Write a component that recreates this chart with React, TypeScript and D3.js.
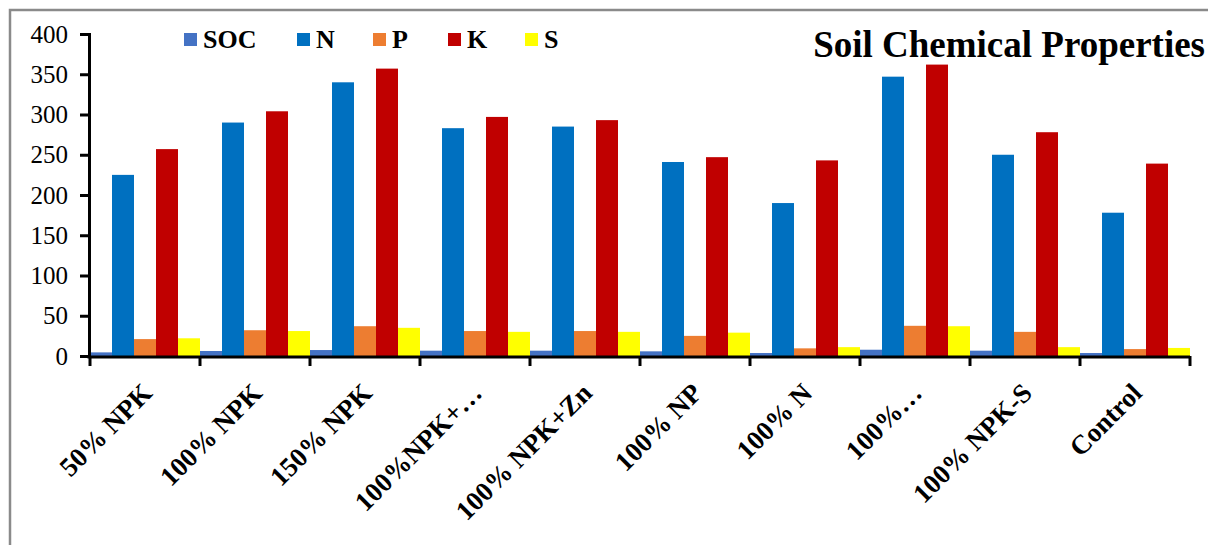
import React, { useEffect, useRef } from "react";
import * as d3 from "d3";

const categories = [
  "50% NPK",
  "100% NPK",
  "150% NPK",
  "100%NPK+…",
  "100% NPK+Zn",
  "100% NP",
  "100% N",
  "100%…",
  "100% NPK-S",
  "Control",
];

const seriesNames = ["SOC", "N", "P", "K", "S"];
const seriesColors = ["#4472C4", "#0070C0", "#ED7D31", "#C00000", "#FFFF00"];

const soc = [4.5, 6.2, 7.4, 6.6, 6.6, 5.8, 3.7, 7.8, 6.6, 3.7];
const nitrogen = [225, 290, 340, 283, 285, 241, 190, 347, 250, 178];
const phosphorus = [21, 32, 37, 31, 31, 25, 9.5, 37.5, 30, 8.6];
const potassium = [257, 304, 357, 297, 293, 247, 243, 362, 278, 239];
const sulphur = [22, 31, 35, 30, 30, 29, 11, 37, 11, 10];

const yTicks = [0, 50, 100, 150, 200, 250, 300, 350, 400];

const FONT = "'Liberation Serif', 'Times New Roman', serif";

const App = () => {
  const ref = useRef<SVGSVGElement | null>(null);

  useEffect(() => {
    if (!ref.current) return;
    const svg = d3.select(ref.current);
    svg.selectAll("*").remove();

    const width = 1208;
    const height = 545;
    const series = [soc, nitrogen, phosphorus, potassium, sulphur];

    svg.append("rect").attr("width", width).attr("height", height).attr("fill", "#fff");

    // outer chart border (only top/left visible)
    svg
      .append("rect")
      .attr("x", 10)
      .attr("y", 10)
      .attr("width", width + 20)
      .attr("height", height + 20)
      .attr("fill", "none")
      .attr("stroke", "#8a8a8a")
      .attr("stroke-width", 2.5);

    const x = d3.scaleBand().domain(categories).range([90, 1190]).padding(0);
    const xInner = d3
      .scaleBand()
      .domain(seriesNames)
      .range([0, x.bandwidth()])
      .padding(0);
    const y = d3.scaleLinear().domain([0, 400]).range([356, 34]);

    const g = svg.append("g");

    // bars
    categories.forEach((c, i) => {
      seriesNames.forEach((s, j) => {
        const v = series[j][i];
        g.append("rect")
          .attr("x", x(c)! + xInner(s)!)
          .attr("y", y(v))
          .attr("width", xInner.bandwidth())
          .attr("height", y(0) - y(v))
          .attr("fill", seriesColors[j]);
      });
    });

    // y axis
    const yAxis = g
      .append("g")
      .attr("transform", "translate(89,0)")
      .call(d3.axisLeft(y).tickValues(yTicks).tickSize(9).tickPadding(12));
    yAxis.select(".domain").attr("stroke", "#000").attr("stroke-width", 3);
    yAxis.selectAll(".tick line").attr("stroke", "#000").attr("stroke-width", 3);
    yAxis
      .selectAll(".tick text")
      .attr("fill", "#000")
      .style("font-family", FONT)
      .style("font-size", "25px");

    // x axis with ticks at category boundaries
    const xAxisG = g.append("g");
    xAxisG
      .append("line")
      .attr("x1", 87.5)
      .attr("x2", 1190)
      .attr("y1", y(0) + 1)
      .attr("y2", y(0) + 1)
      .attr("stroke", "#000")
      .attr("stroke-width", 3);
    const bounds = categories.map((c) => x(c)!).concat([x.range()[1]]);
    xAxisG
      .selectAll(".xtick")
      .data(bounds)
      .enter()
      .append("line")
      .attr("x1", (d) => d)
      .attr("x2", (d) => d)
      .attr("y1", y(0))
      .attr("y2", y(0) + 10)
      .attr("stroke", "#000")
      .attr("stroke-width", 3);

    xAxisG
      .selectAll(".xlabel")
      .data(categories)
      .enter()
      .append("text")
      .attr(
        "transform",
        (d) => `translate(${x(d)! + x.bandwidth() / 2 + 2},${y(0) + 32}) rotate(-45)`
      )
      .attr("text-anchor", "end")
      .attr("dy", "0.35em")
      .style("font-family", FONT)
      .style("font-size", "27px")
      .style("font-weight", "bold")
      .text((d) => d);

    // legend
    const legendX = [184, 297, 373, 448, 525];
    const legend = svg.append("g");
    seriesNames.forEach((s, j) => {
      legend
        .append("rect")
        .attr("x", legendX[j])
        .attr("y", 33)
        .attr("width", 13)
        .attr("height", 13)
        .attr("fill", seriesColors[j]);
      legend
        .append("text")
        .attr("x", legendX[j] + 19)
        .attr("y", 48)
        .style("font-family", FONT)
        .style("font-size", "26px")
        .style("font-weight", "bold")
        .text(s);
    });

    // title
    svg
      .append("text")
      .attr("x", 1205)
      .attr("y", 57)
      .attr("text-anchor", "end")
      .style("font-family", FONT)
      .style("font-size", "37px")
      .style("font-weight", "bold")
      .text("Soil Chemical Properties");
  }, []);

  return (
    <svg
      ref={ref}
      width={1208}
      height={545}
      style={{ position: "absolute", left: 0, top: 0, display: "block" }}
    ></svg>
  );
};

export default App;
